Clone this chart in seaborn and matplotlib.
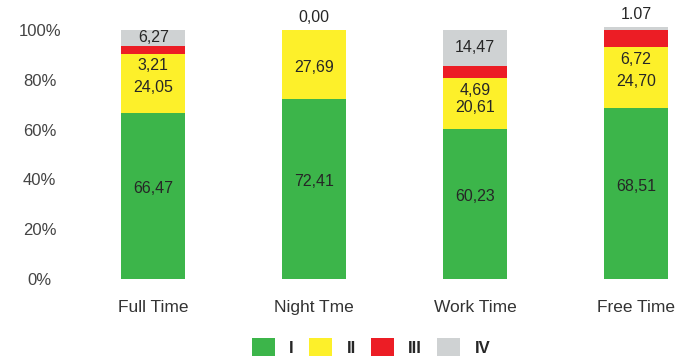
import matplotlib
matplotlib.use("Agg")
import matplotlib.pyplot as plt
import seaborn as sns
import numpy as np
from matplotlib.patches import Patch

# Share of time (%) spent in each class, per period
categories = ["Full Time", "Night Tme", "Work Time", "Free Time"]
series_names = ["I", "II", "III", "IV"]
class_I = [66.47, 72.41, 60.23, 68.51]
class_II = [24.05, 27.69, 20.61, 24.70]
class_III = [3.21, 0.00, 4.69, 6.72]
class_IV = [6.27, 0.00, 14.47, 1.07]
y_ticks = [0, 20, 40, 60, 80, 100]

colors = ["#3cb54a", "#fdf02a", "#ec1d25", "#cfd2d3"]

sns.set_theme(style="white")
plt.rcParams["font.family"] = ["Liberation Sans", "DejaVu Sans"]

fig = plt.figure(figsize=(6.91, 3.56), dpi=100)
ax = fig.add_axes([0.152, 0.216, 0.838, 0.735])

values = np.array([class_I, class_II, class_III, class_IV])
cum = np.cumsum(values, axis=0)

# Stacked bars: draw the running totals from the top class downwards
for i in range(len(series_names) - 1, -1, -1):
    sns.barplot(x=categories, y=cum[i], color=colors[i], saturation=1,
                width=0.4, linewidth=0, ax=ax)

ax.set_xlim(-0.3, 3.3)
ax.set_ylim(0, 105)
ax.set_yticks(y_ticks)
ax.set_yticklabels([f"{t}%" for t in y_ticks], ha="center")
ax.tick_params(axis="y", pad=47, labelsize=12, labelcolor="#444444", length=0)
ax.tick_params(axis="x", pad=15, labelsize=12.5, labelcolor="#333333", length=0)
ax.set_xlabel("")
ax.set_ylabel("")
for s in ax.spines.values():
    s.set_visible(False)
ax.grid(False)


def fmt(v, cat, name):
    txt = f"{v:.2f}"
    if (cat, name) == ("Free Time", "IV"):
        return txt
    return txt.replace(".", ",")


label_kw = dict(ha="center", va="center", fontsize=11.5, color="#262626",
                clip_on=False)
for j, cat in enumerate(categories):
    bottoms = np.concatenate([[0], cum[:, j]])
    for i, name in enumerate(series_names):
        v = values[i, j]
        lo, hi = bottoms[i], bottoms[i + 1]
        if name == "III":
            if v == 0:
                continue
            y = lo - 5
        elif name == "IV":
            y = (lo + hi) / 2 if v >= 5 else cum[-1, j] + 5
        elif name == "II":
            y = (lo + hi) / 2 - 1.5
        else:
            y = (lo + hi) / 2 + 3
        ax.text(j, y, fmt(v, cat, name), **label_kw)

handles = [Patch(facecolor=c, edgecolor="none") for c in colors]
fig.legend(handles, series_names, loc="lower center",
           bbox_to_anchor=(0.537, -0.045), ncol=4, frameon=False,
           handlelength=1.4, handleheight=1.4, handletextpad=0.85,
           columnspacing=0.9, prop={"weight": "bold", "size": 12})

fig.savefig("out.png", dpi=100)
